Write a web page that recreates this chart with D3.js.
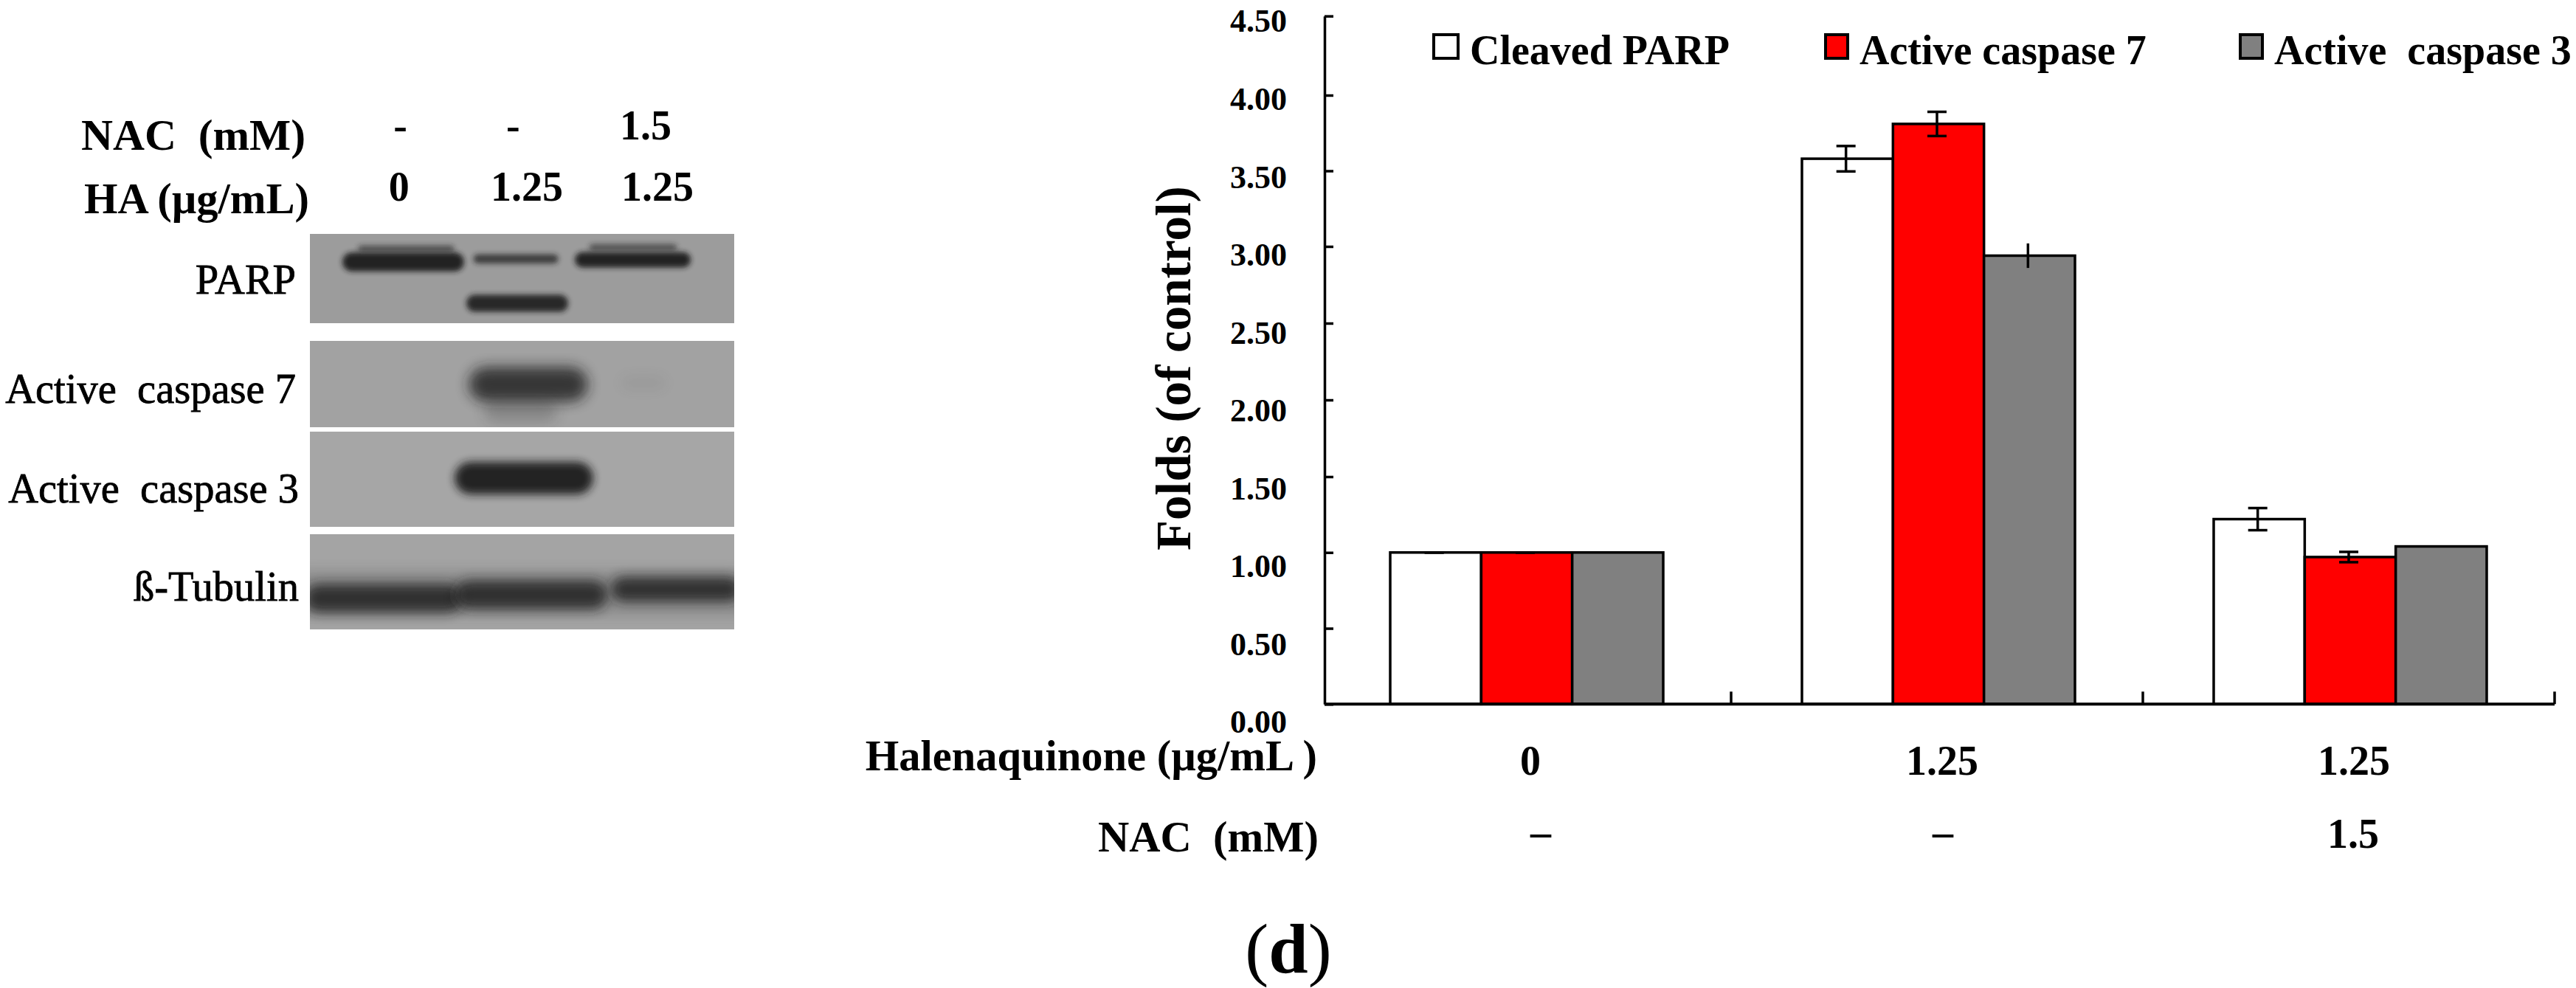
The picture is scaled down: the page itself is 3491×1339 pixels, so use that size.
<!DOCTYPE html>
<html>
<head>
	<meta charset="utf-8">
	<title></title>
	<script src="https://d3js.org/d3.v7.min.js"></script>
	<style>
		body{ margin:0; background:#fff; }
		text{
			font-family:"Liberation Serif", serif;
			font-weight:bold;
			fill:#000;
			white-space:pre;
		}
		.blotlabel{ font-weight:normal; stroke:#000; stroke-width:.8px; }
	</style>
</head>
<body>
	<svg width='3491' height='1339'></svg>
</body>
<script>
	// bar chart values
	var groups = ['0', '1.25', '1.25 + NAC'];
	var haLabels = ['0', '1.25', '1.25'];
	var nacLabels = ['\u2013', '\u2013', '1.5'];
	var series = ['Cleaved PARP', 'Active caspase 7', 'Active  caspase 3'];
	var colors = ['#ffffff', '#ff0000', '#808080'];
	var capped = [true, true, false];
	var cleavedParp = [1.00, 3.58, 1.22];
	var activeCasp7 = [1.00, 3.81, 0.97];
	var activeCasp3 = [1.00, 2.94, 1.04];
	var errParp = [0, 0.084, 0.073];
	var errCasp7 = [0, 0.08, 0.034];
	var errCasp3 = [0, 0.08, 0];
	var yTicks = [0, 0.5, 1, 1.5, 2, 2.5, 3, 3.5, 4, 4.5];

	// blot: bands in lane units / fraction of panel height
	var blotNac = ['-', '-', '1.5'];
	var blotNacLane = [0.64, 1.437, 2.374];
	var blotHa = ['0', '1.25', '1.25'];
	var blotHaLane = [0.63, 1.534, 2.457];
	var parpBands = [
		[0.66, 0.43, 0.314, 0.105, 0.95],
		[0.68, 0.34, 0.165, 0.035, 0.6],
		[1.456, 0.30, 0.28, 0.05, 0.75],
		[1.466, 0.36, 0.777, 0.095, 0.9],
		[2.283, 0.41, 0.29, 0.085, 0.95],
		[2.285, 0.31, 0.15, 0.035, 0.6]
	];
	var casp7Bands = [
		[1.544, 0.42, 0.504, 0.2, 0.8],
		[1.49, 0.26, 0.81, 0.13, 0.2],
		[2.358, 0.16, 0.487, 0.08, 0.06]
	];
	var casp3Bands = [
		[1.513, 0.49, 0.488, 0.17, 0.95]
	];
	var tubulinBands = [
		[1.5, 1.7, 0.62, 0.25, 0.15],
		[0.52, 0.56, 0.674, 0.15, 0.82],
		[1.565, 0.54, 0.636, 0.15, 0.82],
		[2.588, 0.46, 0.58, 0.13, 0.82]
	];

	var svg = d3.select('svg');
	var defs = svg.append('defs');
	[3.5, 9, 6, 8].forEach(function(sd, i){
		defs.append('filter').attr('id', 'soft' + i)
			.attr('x', '-30%').attr('y', '-150%').attr('width', '160%').attr('height', '400%')
			.append('feGaussianBlur').attr('stdDeviation', sd);
	});

	/* ---------- blot ---------- */
	var lane = d3.scaleLinear().domain([0, 3]).range([420, 995]);
	var panels = [
		{name:'PARP', bands:parpBands, top:317, bottom:438, fill:'#9c9c9c', base:398, right:401},
		{name:'Active  caspase 7', bands:casp7Bands, top:462, bottom:579, fill:'#a2a2a2', base:546, right:401},
		{name:'Active  caspase 3', bands:casp3Bands, top:585, bottom:714, fill:'#a6a6a6', base:681, right:405},
		{name:'\u00df-Tubulin', bands:tubulinBands, top:724, bottom:853, fill:'#a4a4a4', base:814, right:405}
	];
	var blot = svg.append('g');

	panels.forEach(function(p, i){
		var py = d3.scaleLinear().domain([0, 1]).range([p.top, p.bottom]);
		defs.append('clipPath').attr('id', 'panel' + i)
			.append('rect')
			.attr('x', lane(0)).attr('y', p.top)
			.attr('width', lane(3) - lane(0)).attr('height', p.bottom - p.top);

		blot.append('rect')
			.attr('x', lane(0)).attr('y', p.top)
			.attr('width', lane(3) - lane(0)).attr('height', p.bottom - p.top)
			.attr('fill', p.fill);

		blot.append('g').attr('clip-path', 'url(#panel' + i + ')')
			.selectAll('rect').data(p.bands).enter().append('rect')
			.attr('x', function(d){ return lane(d[0] - d[1]); })
			.attr('width', function(d){ return lane(d[1] * 2) - lane(0); })
			.attr('y', function(d){ return py(d[2] - d[3]); })
			.attr('height', function(d){ return py(d[3] * 2) - py(0); })
			.attr('rx', function(d){ return py(d[3]) - py(0); })
			.attr('fill', '#1c1c1c')
			.attr('opacity', function(d){ return d[4]; })
			.attr('filter', 'url(#soft' + i + ')');

		blot.append('text')
			.attr('class', 'blotlabel')
			.attr('x', p.right).attr('y', p.base)
			.attr('text-anchor', 'end')
			.style('font-size', '56.5px')
			.text(p.name);
	});

	blot.append('text').attr('x', 110).attr('y', 203).style('font-size', '59.5px').text('NAC  (mM)');
	blot.append('text').attr('x', 114).attr('y', 289).style('font-size', '58.5px').text('HA (\u00b5g/mL)');

	blot.selectAll('.topnac').data(blotNac).enter().append('text')
		.attr('x', function(d, i){ return lane(blotNacLane[i]); })
		.attr('y', 189)
		.attr('text-anchor', 'middle')
		.style('font-size', '56px')
		.text(function(d){ return d; });

	blot.selectAll('.topha').data(blotHa).enter().append('text')
		.attr('x', function(d, i){ return lane(blotHaLane[i]); })
		.attr('y', 272)
		.attr('text-anchor', 'middle')
		.style('font-size', '56px')
		.text(function(d){ return d; });

	/* ---------- bars ---------- */
	var x0 = d3.scaleBand().domain(groups).range([1788, 3462]);
	var x1 = d3.scaleBand().domain(series).range([96, 466]);
	// the original axis is slightly uneven, so pin the measured tick rows
	var y = d3.scaleLinear().domain([0, 1.5, 3, 4, 4.5]).range([954.3, 646, 334, 129, 21.7]);
	// tick labels sit in their own, wider spaced boxes
	var yLabel = d3.scaleLinear().domain([0, 4.5]).range([978, 28]);

	var rows = [];
	groups.forEach(function(g, i){
		[cleavedParp, activeCasp7, activeCasp3].forEach(function(vals, s){
			rows.push({group:g, s:s, value:vals[i], err:[errParp, errCasp7, errCasp3][s][i]});
		});
	});

	var chart = svg.append('g');

	chart.selectAll('.bar').data(rows).enter().append('rect')
		.attr('class', 'bar')
		.attr('x', function(d){ return x0(d.group) + x1(series[d.s]); })
		.attr('width', x1.bandwidth())
		.attr('y', function(d){ return y(d.value); })
		.attr('height', function(d){ return y(0) - y(d.value); })
		.attr('fill', function(d){ return colors[d.s]; })
		.attr('stroke', '#000')
		.attr('stroke-width', 3.5);

	var barMid = function(d){ return x0(d.group) + x1(series[d.s]) + x1.bandwidth() / 2 - 2; };
	var errs = chart.selectAll('.err').data(rows.filter(function(d){ return d.err > 0 || capped[d.s]; }))
		.enter().append('g').attr('class', 'err')
		.attr('stroke', '#000').attr('stroke-width', 3.5);

	errs.append('line')
		.attr('x1', barMid).attr('x2', barMid)
		.attr('y1', function(d){ return y(d.value + d.err); })
		.attr('y2', function(d){ return y(d.value - d.err); });

	[1, -1].forEach(function(sign){
		errs.filter(function(d){ return capped[d.s]; }).append('line')
			.attr('x1', function(d){ return barMid(d) - 13; })
			.attr('x2', function(d){ return barMid(d) + 13; })
			.attr('y1', function(d){ return y(d.value + sign * d.err); })
			.attr('y2', function(d){ return y(d.value + sign * d.err); });
	});

	// y axis
	var yAxis = chart.append('g')
		.attr('transform', 'translate(1795,0)')
		.call(d3.axisRight(y).tickValues(yTicks).tickSize(12).tickSizeOuter(0).tickFormat(d3.format('.2f')));
	yAxis.select('.domain').attr('stroke', '#000').attr('stroke-width', 3.5);
	yAxis.selectAll('.tick line').attr('stroke', '#000').attr('stroke-width', 3.5);
	yAxis.selectAll('.tick text')
		.attr('x', -51)
		.attr('y', function(d){ return yLabel(d) - y(d); })
		.attr('dy', '.34em')
		.attr('text-anchor', 'end')
		.style('font-family', '"Liberation Serif", serif')
		.style('font-size', '44px');

	// x axis, ticks at the group borders
	chart.append('line')
		.attr('x1', 1795).attr('x2', x0.range()[1])
		.attr('y1', y(0)).attr('y2', y(0))
		.attr('stroke', '#000').attr('stroke-width', 4);
	chart.selectAll('.xtick').data(groups).enter().append('line')
		.attr('x1', function(d){ return x0(d) + x0.bandwidth(); })
		.attr('x2', function(d){ return x0(d) + x0.bandwidth(); })
		.attr('y1', y(0)).attr('y2', y(0) - 17)
		.attr('stroke', '#000').attr('stroke-width', 3.5);

	chart.append('text')
		.attr('transform', 'translate(1613,499) rotate(-90)')
		.attr('text-anchor', 'middle')
		.style('font-size', '67px')
		.text('Folds (of control)');

	// rows under the axis
	chart.selectAll('.ha').data(haLabels).enter().append('text')
		.attr('x', function(d, i){ return x0(groups[i]) + x0.bandwidth() / 2 + 7; })
		.attr('y', 1050)
		.attr('text-anchor', 'middle')
		.style('font-size', '56px')
		.text(function(d){ return d; });
	chart.append('text')
		.attr('x', 1785).attr('y', 1044)
		.attr('text-anchor', 'end')
		.style('font-size', '58.5px')
		.text('Halenaquinone (\u00b5g/mL )');

	var nacNudge = [21, 8, 6];
	chart.selectAll('.nac').data(nacLabels).enter().append('text')
		.attr('x', function(d, i){ return x0(groups[i]) + x0.bandwidth() / 2 + nacNudge[i]; })
		.attr('y', function(d){ return d == '1.5' ? 1149 : 1146; })
		.attr('text-anchor', 'middle')
		.style('font-size', '56px')
		.text(function(d){ return d; });
	chart.append('text')
		.attr('x', 1787).attr('y', 1154)
		.attr('text-anchor', 'end')
		.style('font-size', '58.5px')
		.text('NAC  (mM)');

	// legend
	var legendX = [1943, 2474, 3036];
	var legendW = [33, 30, 30];
	var legendTextX = [1992, 2520, 3082];
	var legend = chart.selectAll('.legend').data(series).enter().append('g').attr('class', 'legend');
	legend.append('rect')
		.attr('x', function(d, i){ return legendX[i]; })
		.attr('y', 47)
		.attr('width', function(d, i){ return legendW[i]; })
		.attr('height', 32)
		.attr('fill', function(d, i){ return colors[i]; })
		.attr('stroke', '#000')
		.attr('stroke-width', 4);
	legend.append('text')
		.attr('x', function(d, i){ return legendTextX[i]; })
		.attr('y', 87)
		.style('font-size', '56px')
		.text(function(d){ return d; });

	var tag = svg.append('text')
		.attr('x', 1746).attr('y', 1318)
		.attr('text-anchor', 'middle')
		.style('font-size', '96px');
	tag.append('tspan').style('font-weight', 'normal').text('(');
	tag.append('tspan').text('d');
	tag.append('tspan').style('font-weight', 'normal').text(')');
</script>
</html>
